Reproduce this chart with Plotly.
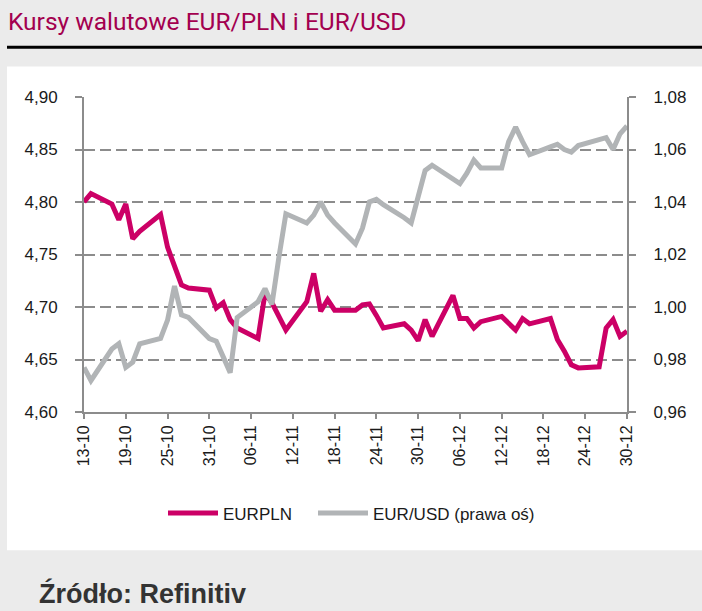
import plotly.graph_objects as go

dates = ["2022-10-13","2022-10-14","2022-10-17","2022-10-18","2022-10-19","2022-10-20","2022-10-21",
         "2022-10-24","2022-10-25","2022-10-26","2022-10-27","2022-10-28","2022-10-31","2022-11-01",
         "2022-11-02","2022-11-03","2022-11-04","2022-11-07","2022-11-08","2022-11-09","2022-11-10",
         "2022-11-11","2022-11-14","2022-11-15","2022-11-16","2022-11-17","2022-11-18","2022-11-21",
         "2022-11-22","2022-11-23","2022-11-24","2022-11-25","2022-11-28","2022-11-29","2022-11-30",
         "2022-12-01","2022-12-02","2022-12-05","2022-12-06","2022-12-07","2022-12-08","2022-12-09",
         "2022-12-12","2022-12-13","2022-12-14","2022-12-15","2022-12-16","2022-12-19","2022-12-20",
         "2022-12-21","2022-12-22","2022-12-23","2022-12-26","2022-12-27","2022-12-28","2022-12-29",
         "2022-12-30"]

eurpln = [4.800,4.808,4.798,4.783,4.798,4.765,4.772,
          4.788,4.757,4.738,4.721,4.718,4.716,4.699,
          4.704,4.688,4.680,4.670,4.713,4.704,4.690,
          4.678,4.705,4.732,4.696,4.707,4.697,4.697,
          4.702,4.703,4.692,4.680,4.684,4.678,4.668,
          4.688,4.672,4.711,4.689,4.689,4.680,4.686,
          4.691,4.685,4.678,4.689,4.684,4.689,4.669,
          4.658,4.645,4.642,4.643,4.680,4.688,4.672,
          4.677]

eurusd = [0.977,0.972,0.984,0.986,0.977,0.979,0.986,
          0.988,0.995,1.008,0.997,0.996,0.988,0.987,
          0.981,0.975,0.996,1.002,1.007,1.001,1.019,
          1.0355,1.032,1.035,1.040,1.035,1.032,1.024,
          1.030,1.040,1.041,1.039,1.034,1.032,1.042,
          1.052,1.054,1.049,1.047,1.051,1.056,1.053,
          1.053,1.063,1.0685,1.063,1.058,1.061,1.062,
          1.060,1.059,1.0615,1.0635,1.0645,1.060,1.066,
          1.069]

names = ["EURPLN", "EUR/USD (prawa oś)"]
title_text = "Kursy walutowe EUR/PLN i EUR/USD"
source_text = "Źródło: Refinitiv"

W, H = 702, 611
L, R, T, B = 84, 75, 96.5, 198.7
PW, PH = W - L - R, H - T - B

def px(x):
    return (x - L) / PW

def py(y):
    return (H - B - y) / PH

fig = go.Figure()
fig.add_trace(go.Scatter(x=dates, y=eurpln, name=names[0], mode="lines", legend="legend",
                         line=dict(color="#cc0066", width=5)))
fig.add_trace(go.Scatter(x=dates, y=eurusd, name=names[1], mode="lines", yaxis="y2", legend="legend2",
                         line=dict(color="#b1b4b6", width=5)))

axcol = "#8c8c8c"
tickfont = dict(family="Liberation Sans, Arial, sans-serif", size=17, color="#1a1a1a")
xtickfont = dict(family="Liberation Sans, Arial, sans-serif", size=16, color="#1a1a1a")
legfont = dict(family="Liberation Sans, Arial, sans-serif", size=17, color="#1a1a1a")

fig.update_layout(
    width=W, height=H,
    margin=dict(l=L, r=R, t=T, b=B, pad=0),
    paper_bgcolor="#ebebeb",
    plot_bgcolor="white",
    separators=", ",
    showlegend=True,
    legend=dict(orientation="h", x=px(163), xanchor="left", y=py(514), yanchor="middle",
                font=legfont, bgcolor="rgba(0,0,0,0)", itemwidth=50),
    legend2=dict(orientation="h", x=px(313), xanchor="left", y=py(514), yanchor="middle",
                 font=legfont, bgcolor="rgba(0,0,0,0)", itemwidth=50),
    xaxis=dict(type="date", range=["2022-10-13", "2022-12-30"],
               tick0="2022-10-13", dtick=6 * 86400000, tickformat="%d-%m",
               tickangle=-90, ticks="outside", ticklen=5, tickwidth=2, tickcolor=axcol,
               showline=True, linecolor=axcol, linewidth=2, showgrid=False, zeroline=False,
               tickfont=xtickfont),
    yaxis=dict(range=[4.60, 4.90], dtick=0.05, tickformat=".2f",
               ticks="outside", ticklen=7, tickwidth=2, tickcolor=axcol,
               showline=True, linecolor=axcol, linewidth=2,
               showgrid=True, gridcolor=axcol, gridwidth=2, griddash="11px,5px",
               zeroline=False, tickfont=tickfont, ticklabelstandoff=14),
    yaxis2=dict(range=[0.96, 1.08], dtick=0.02, tickformat=".2f", overlaying="y", side="right",
                ticks="outside", ticklen=7, tickwidth=2, tickcolor=axcol,
                showline=True, linecolor=axcol, linewidth=2, showgrid=False,
                zeroline=False, tickfont=tickfont, ticklabelstandoff=14),
    shapes=[
        dict(type="rect", xref="paper", yref="paper", x0=px(7), x1=px(702), y0=py(551), y1=py(66),
             fillcolor="white", line=dict(width=0), layer="below"),
        dict(type="line", xref="paper", yref="paper", x0=px(7), x1=px(702), y0=py(46.5), y1=py(46.5),
             line=dict(color="black", width=3)),
    ],
    annotations=[
        dict(text=title_text, xref="paper", yref="paper", x=px(6), y=py(21), xanchor="left",
             yanchor="middle", showarrow=False,
             font=dict(family="Roboto, Liberation Sans, sans-serif", size=24.5, color="#a3004f")),
        dict(text="<b>" + source_text + "</b>", xref="paper", yref="paper", x=px(37), y=py(594),
             xanchor="left", yanchor="middle", showarrow=False,
             font=dict(family="Liberation Sans, Arial, sans-serif", size=27, color="#333333")),
    ],
)

fig.write_html("out.html", config={"displayModeBar": False},
               post_script="document.body.style.margin='0px';document.body.style.overflow='hidden';")
